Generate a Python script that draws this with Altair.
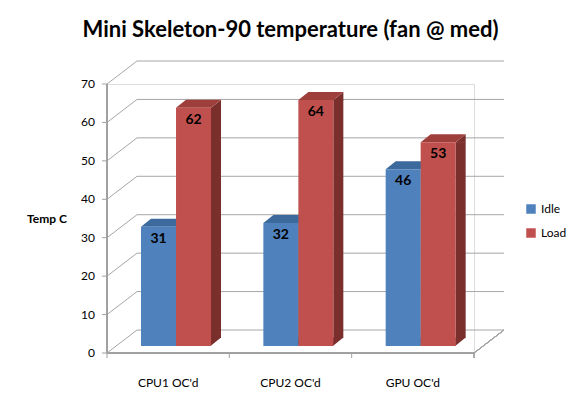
import altair as alt
import pandas as pd

categories = ["CPU1 OC'd", "CPU2 OC'd", "GPU OC'd"]
series = ["Idle", "Load"]
idle = [31, 32, 46]
load = [62, 64, 53]
y_ticks = [0, 10, 20, 30, 40, 50, 60, 70]
y_title = ["Temp C"]

front_colors = ["#4F81BD", "#C0504D"]
top_colors = ["#3D6A9C", "#9E3F3C"]
side_colors = ["#2F5480", "#7B2F2D"]

rows = []
for c, i, l in zip(categories, idle, load):
    rows.append({"cat": c, "series": "Idle", "temp": i})
    rows.append({"cat": c, "series": "Load", "temp": l})
df = pd.DataFrame(rows)
grid_df = pd.DataFrame({"temp": y_ticks})
cat_df = pd.DataFrame({"cat": categories})
title_df = pd.DataFrame({"t": y_title})

FONT = "Lato"
W, H = 367, 269
DX, DY = 30, 23        # depth of the 3-D box (back wall shift)
BY = -7                # bars sit half way into the floor
AX = "#a0a0a0"
GRID = "#a6a6a6"

yscale = alt.Scale(domain=[0, 70])
x = alt.X("cat:N", sort=categories, title=None, axis=None,
          scale=alt.Scale(type="band", paddingInner=0, paddingOuter=0))
xo = alt.XOffset("series:N", sort=series,
                 scale=alt.Scale(type="band", paddingInner=0, paddingOuter=0.7476, align=0.65))
# side faces: 10 px wide bands just right of each 35 px front face
xo_side = alt.XOffset("series:N", sort=series,
                      scale=alt.Scale(type="band", range=[69, 114], paddingInner=0.714,
                                      paddingOuter=0))
y = alt.Y("temp:Q", scale=yscale, axis=None, title=None)
y_zero = alt.YDatum(0, type="quantitative", scale=yscale, axis=None, title=None)

# --- 3-D box: back wall grid, side diagonals, floor -----------------------
back_grid = alt.Chart(grid_df).mark_rule(color=GRID, yOffset=-DY).encode(
    y=y, x=alt.value(DX), x2=alt.value(W + DX))
diag_grid = alt.Chart(grid_df).mark_rule(color=GRID, y2Offset=-DY).encode(
    y=y, y2="temp:Q", x=alt.value(0), x2=alt.value(DX))
floor_edge = alt.Chart(grid_df).mark_rule(color=GRID).encode(
    x=alt.value(W), x2=alt.value(W + DX), y=alt.value(H), y2=alt.value(H - DY))

# --- axes drawn by hand ---------------------------------------------------
y_domain = alt.Chart(grid_df).mark_rule(color=AX).encode(
    x=alt.value(0), y=alt.value(0), y2=alt.value(H))
x_domain = alt.Chart(grid_df).mark_rule(color=AX).encode(
    x=alt.value(0), x2=alt.value(W), y=alt.value(H))
y_tick_marks = alt.Chart(grid_df).mark_rule(color=AX).encode(
    y=y, x=alt.value(-5), x2=alt.value(0))
y_labels = alt.Chart(grid_df).mark_text(align="right", baseline="middle", font=FONT,
                                        fontSize=12, color="#000000").encode(
    y=y, x=alt.value(-12), text="temp:Q")
cat_ticks = alt.Chart(cat_df).mark_rule(color=AX, xOffset=-W / 6).encode(
    x=x, y=alt.value(H), y2=alt.value(H + 5))
last_tick = alt.Chart(cat_df).mark_rule(color=AX).encode(
    x=alt.value(W), y=alt.value(H), y2=alt.value(H + 5))
x_labels = alt.Chart(cat_df).mark_text(align="center", baseline="middle", font=FONT,
                                       fontSize=12, color="#000000").encode(
    x=x, y=alt.value(H + 30), text="cat:N")
y_title_txt = alt.Chart(title_df).mark_text(align="left", baseline="middle", font=FONT,
                                            fontSize=12, fontWeight="bold",
                                            color="#000000").encode(
    x=alt.value(-80), y=alt.value(135), text="t:N")

# --- bars with 3-D faces --------------------------------------------------
is_idle = alt.datum.series == "Idle"
side_col = alt.condition(is_idle, alt.value(side_colors[0]), alt.value(side_colors[1]))
top_col = alt.condition(is_idle, alt.value(top_colors[0]), alt.value(top_colors[1]))

side_rect = alt.Chart(df).mark_bar(yOffset=BY, y2Offset=BY - 8).encode(
    x=x, xOffset=xo_side, y=y, y2=alt.datum(0), color=side_col)

TOP_FACE = "M -1.75 0 L -0.75 -0.8 L 2.75 -0.8 L 1.75 0 Z"
SIDE_TOP = "M 1.7 0.05 L 2.75 -0.8 L 2.75 0.05 Z"
SIDE_BOT = "M 1.7 -0.85 L 1.7 0 L 2.75 -0.85 Z"

side_top = alt.Chart(df).mark_point(shape=SIDE_TOP, size=400, filled=True, opacity=1,
                                    strokeWidth=0, yOffset=BY).encode(
    x=x, xOffset=xo, y=y, color=side_col)
side_bot = alt.Chart(df).mark_point(shape=SIDE_BOT, size=400, filled=True, opacity=1,
                                    strokeWidth=0, yOffset=BY).encode(
    x=x, xOffset=xo, y=y_zero, color=side_col)
top_face = alt.Chart(df).mark_point(shape=TOP_FACE, size=400, filled=True, opacity=1,
                                    strokeWidth=0, yOffset=BY).encode(
    x=x, xOffset=xo, y=y, color=top_col)

front = alt.Chart(df).mark_bar(yOffset=BY, y2Offset=BY).encode(
    x=x, xOffset=xo, y=y, y2=alt.datum(0),
    color=alt.Color("series:N", sort=series,
                    scale=alt.Scale(domain=series, range=front_colors),
                    legend=alt.Legend(title=None, orient="none", legendX=418, legendY=119,
                                      symbolType="square", symbolSize=90,
                                      labelFont=FONT, labelFontSize=12,
                                      labelColor="#000000", rowPadding=12,
                                      symbolStrokeWidth=0))
)

labels = alt.Chart(df).mark_text(baseline="middle", dy=BY + 12, fontSize=14,
                                 fontWeight="bold", font=FONT, color="#000000").encode(
    x=x, xOffset=xo, y=y, text="temp:Q"
)

chart = alt.layer(back_grid, diag_grid, floor_edge, y_domain, x_domain, y_tick_marks,
                  y_labels, cat_ticks, last_tick, x_labels, y_title_txt,
                  side_rect, side_bot, side_top, top_face, front, labels).resolve_scale(
    xOffset="independent"
).properties(
    width=W, height=H,
    title=alt.TitleParams("Mini Skeleton-90 temperature (fan @ med)",
                          font=FONT, fontSize=22, fontWeight="bold",
                          color="#000000", anchor="middle", offset=19),
    autosize=alt.AutoSizeParams(type="none"),
    padding={"left": 99, "top": 76, "right": 100, "bottom": 40},
).configure_view(stroke=None).configure(background="#ffffff")

chart.save("out.html", embed_options={"renderer": "svg", "actions": False})
